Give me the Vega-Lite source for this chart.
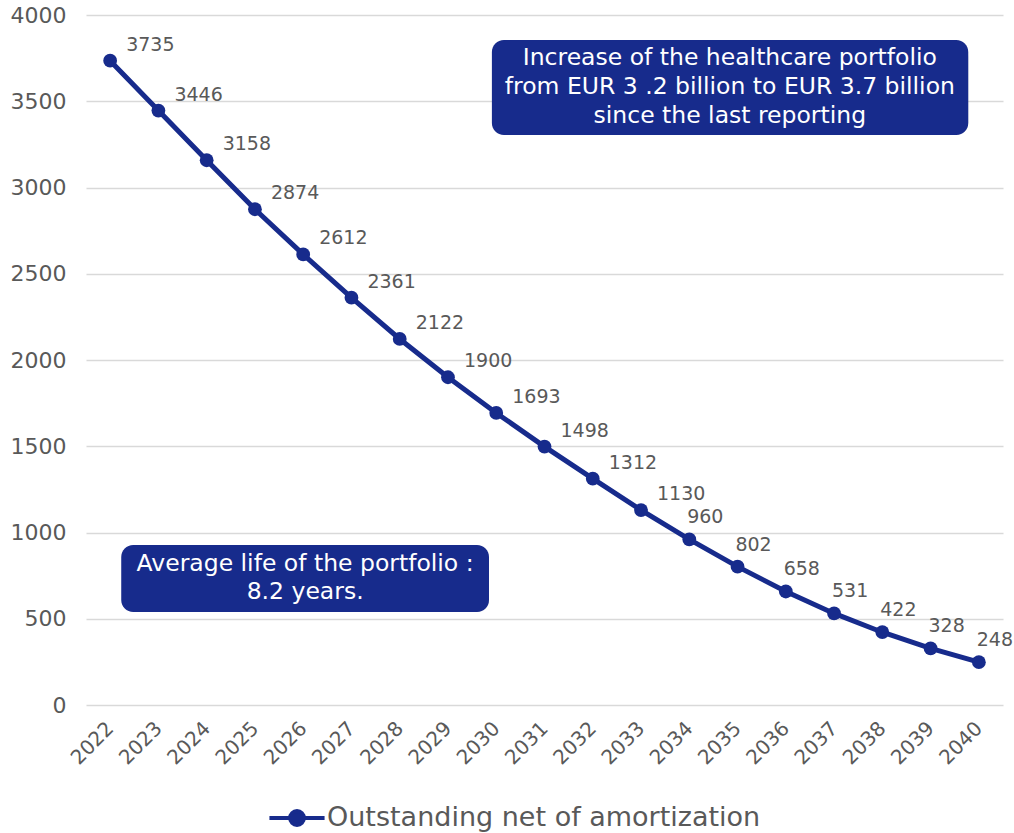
{
  "$schema": "https://vega.github.io/schema/vega-lite/v6.json",
  "width": 917,
  "height": 690,
  "autosize": {"type": "none"},
  "padding": {"left": 86, "top": 15, "right": 11, "bottom": 128},
  "background": "white",
  "config": {
    "view": {"stroke": null},
    "font": "DejaVu Sans",
    "axis": {"labelFont": "DejaVu Sans", "labelColor": "#595959", "titleColor": "#595959"}
  },
  "datasets": {
    "main": [
      {"year": 2022, "value": 3735, "series": "Outstanding net of amortization"},
      {"year": 2023, "value": 3446, "series": "Outstanding net of amortization"},
      {"year": 2024, "value": 3158, "series": "Outstanding net of amortization"},
      {"year": 2025, "value": 2874, "series": "Outstanding net of amortization"},
      {"year": 2026, "value": 2612, "series": "Outstanding net of amortization"},
      {"year": 2027, "value": 2361, "series": "Outstanding net of amortization"},
      {"year": 2028, "value": 2122, "series": "Outstanding net of amortization"},
      {"year": 2029, "value": 1900, "series": "Outstanding net of amortization"},
      {"year": 2030, "value": 1693, "series": "Outstanding net of amortization"},
      {"year": 2031, "value": 1498, "series": "Outstanding net of amortization"},
      {"year": 2032, "value": 1312, "series": "Outstanding net of amortization"},
      {"year": 2033, "value": 1130, "series": "Outstanding net of amortization"},
      {"year": 2034, "value": 960, "series": "Outstanding net of amortization"},
      {"year": 2035, "value": 802, "series": "Outstanding net of amortization"},
      {"year": 2036, "value": 658, "series": "Outstanding net of amortization"},
      {"year": 2037, "value": 531, "series": "Outstanding net of amortization"},
      {"year": 2038, "value": 422, "series": "Outstanding net of amortization"},
      {"year": 2039, "value": 328, "series": "Outstanding net of amortization"},
      {"year": 2040, "value": 248, "series": "Outstanding net of amortization"}
    ],
    "notes": [
      {"note": "increase", "x1": 2029.91, "x2": 2039.78, "y1": 3855, "y2": 3304, "cx": 2034.84, "cy": 3751},
      {"note": "life", "x1": 2022.23, "x2": 2029.85, "y1": 928, "y2": 539, "cx": 2026.04, "cy": 817}
    ]
  },
  "layer": [
    {
      "data": {"name": "main"},
      "encoding": {
        "x": {
          "field": "year", "type": "quantitative",
          "scale": {"domain": [2021.5, 2040.5], "nice": false, "zero": false},
          "axis": {
            "title": null, "values": [2022,2023,2024,2025,2026,2027,2028,2029,2030,2031,2032,2033,2034,2035,2036,2037,2038,2039,2040],
            "format": "d", "labelAngle": -45, "labelAlign": "right", "labelBaseline": "middle",
            "labelFontSize": 20, "labelPadding": 20, "grid": false, "ticks": false, "domain": false, "labelOverlap": false
          }
        },
        "y": {
          "field": "value", "type": "quantitative",
          "scale": {"domain": [0, 4000], "nice": false},
          "axis": {
            "title": null, "values": [0,500,1000,1500,2000,2500,3000,3500,4000], "format": "d",
            "labelFontSize": 22, "labelPadding": 20, "ticks": false, "domain": false,
            "gridColor": "#d9d9d9", "gridWidth": 1.5
          }
        }
      },
      "layer": [
        {
          "mark": {"type": "line", "strokeWidth": 5},
          "encoding": {
            "color": {
              "field": "series", "type": "nominal",
              "scale": {"range": ["#172b8c"]},
              "legend": {
                "title": null, "orient": "none", "legendX": 195, "legendY": 787,
                "labelFontSize": 27, "labelColor": "#595959", "labelFont": "DejaVu Sans", "labelLimit": 0,
                "symbolType": "M-2,0L2,0M-0.5,0A0.5,0.5 0 1,1 0.5,0A0.5,0.5 0 1,1 -0.5,0Z",
                "symbolSize": 760, "symbolStrokeWidth": 4, "labelOffset": 14,
                "encode": {"symbols": {"update": {"fill": {"value": "#172b8c"}, "stroke": {"value": "#172b8c"}, "strokeWidth": {"value": 4}}}}
              }
            }
          }
        },
        {
          "mark": {"type": "point", "filled": true, "size": 190, "opacity": 1, "color": "#172b8c"}
        },
        {
          "transform": [{"filter": "datum.value >= 1000"}],
          "mark": {"type": "text", "align": "left", "baseline": "middle", "dx": 16, "dy": -16, "fontSize": 19, "color": "#595959"},
          "encoding": {"text": {"field": "value", "type": "quantitative", "format": "d"}}
        },
        {
          "transform": [{"filter": "datum.value < 1000"}],
          "mark": {"type": "text", "align": "center", "baseline": "middle", "dx": 16, "dy": -22, "fontSize": 19, "color": "#595959"},
          "encoding": {"text": {"field": "value", "type": "quantitative", "format": "d"}}
        }
      ]
    },
    {
      "data": {"name": "notes"},
      "mark": {"type": "rect", "cornerRadius": 12, "color": "#8a8a8a", "opacity": 0.35, "xOffset": 4, "yOffset": 5},
      "encoding": {
        "x": {"field": "x1", "type": "quantitative"}, "x2": {"field": "x2"},
        "y": {"field": "y1", "type": "quantitative"}, "y2": {"field": "y2"}
      }
    },
    {
      "data": {"name": "notes"},
      "mark": {"type": "rect", "cornerRadius": 12, "color": "#172b8c"},
      "encoding": {
        "x": {"field": "x1", "type": "quantitative"}, "x2": {"field": "x2"},
        "y": {"field": "y1", "type": "quantitative"}, "y2": {"field": "y2"}
      }
    },
    {
      "data": {"name": "notes"},
      "transform": [{"filter": "datum.note == 'increase'"}],
      "mark": {"type": "text", "text": ["Increase of the healthcare portfolio", "from EUR 3 .2 billion to EUR 3.7 billion", "since the last reporting"], "lineHeight": 29, "fontSize": 23.5, "color": "white", "align": "center", "baseline": "middle"},
      "encoding": {"x": {"field": "cx", "type": "quantitative"}, "y": {"field": "cy", "type": "quantitative"}}
    },
    {
      "data": {"name": "notes"},
      "transform": [{"filter": "datum.note == 'life'"}],
      "mark": {"type": "text", "text": ["Average life of the portfolio :", "8.2 years."], "lineHeight": 28, "fontSize": 23.5, "color": "white", "align": "center", "baseline": "middle"},
      "encoding": {"x": {"field": "cx", "type": "quantitative"}, "y": {"field": "cy", "type": "quantitative"}}
    }
  ]
}
